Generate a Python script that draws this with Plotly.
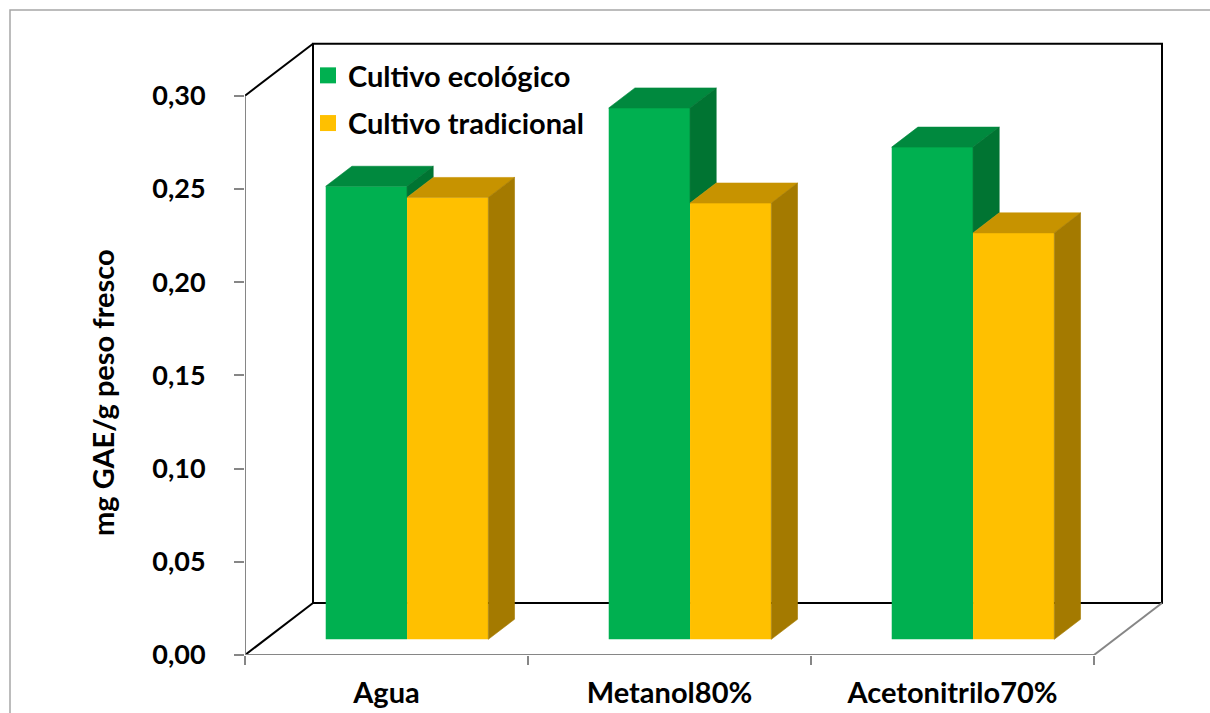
import plotly.graph_objects as go

# ---- data -------------------------------------------------------------
categories = ["Agua", "Metanol80%", "Acetonitrilo70%"]
series_names = ["Cultivo ecológico", "Cultivo tradicional"]
ecologico = [0.243, 0.285, 0.264]
tradicional = [0.237, 0.234, 0.218]
y_ticks = [0.00, 0.05, 0.10, 0.15, 0.20, 0.25, 0.30]
y_max = 0.30

# ---- styling ------------------------------------------------------------
FONT = "Lato"
front_colors = ["#00B050", "#FFC000"]
top_colors = ["#00893E", "#C79300"]
side_colors = ["#007432", "#A47A00"]
AXIS_GRAY = "#868686"
BORDER_GRAY = "#A6A6A6"

# figure / plot-area geometry (pixels)
FIG_W, FIG_H = 1210, 713
PLOT_L, PLOT_R, PLOT_T, PLOT_B = 245, 1180, 20, 655
PX_PER_CAT = 283.0
PX_PER_UNIT = 1864.3

x_range = [0, (PLOT_R - PLOT_L) / PX_PER_CAT]
y_range = [0, (PLOT_B - PLOT_T) / PX_PER_UNIT]

# oblique depth of the floor (full depth), in data units
DEPTH_X = 68 / PX_PER_CAT
DEPTH_Y = 52 / PX_PER_UNIT
# bars occupy this depth slice
D_FRONT, D_BACK = 0.302, 0.687
BAR_W = 0.2873                      # width of one bar, in category units
GAP = (1 - 2 * BAR_W) / 2           # empty space either side of the pair

fx, fy = D_FRONT * DEPTH_X, D_FRONT * DEPTH_Y          # front-face shift
ddx, ddy = (D_BACK - D_FRONT) * DEPTH_X, (D_BACK - D_FRONT) * DEPTH_Y

series_vals = [ecologico, tradicional]
n_cat = len(categories)

fig = go.Figure()

# front faces
for s, vals in enumerate(series_vals):
    xs = [i + GAP + fx + s * BAR_W + BAR_W / 2 for i in range(n_cat)]
    fig.add_trace(go.Bar(
        x=xs, y=vals, base=[fy] * n_cat, width=BAR_W,
        marker=dict(color=front_colors[s], line=dict(width=0)),
        showlegend=False, hoverinfo="skip",
    ))


def polys_trace(polys, color):
    xs, ys = [], []
    for p in polys:
        for (px, py) in p + [p[0]]:
            xs.append(px)
            ys.append(py)
        xs.append(None)
        ys.append(None)
    return go.Scatter(
        x=xs, y=ys, mode="lines", fill="toself", fillcolor=color,
        line=dict(color=color, width=0.6), showlegend=False, hoverinfo="skip",
    )


# top and side faces
for s, vals in enumerate(series_vals):
    tops, sides = [], []
    for i, v in enumerate(vals):
        x0 = i + GAP + fx + s * BAR_W
        x1 = x0 + BAR_W
        top = fy + v
        tops.append([(x0, top), (x1, top), (x1 + ddx, top + ddy), (x0 + ddx, top + ddy)])
        # part of the side face not hidden by the neighbouring bar
        if s + 1 < len(series_vals):
            base = fy + series_vals[s + 1][i]
        else:
            base = fy
        if top > base:
            sides.append([(x1, base), (x1, top), (x1 + ddx, top + ddy), (x1 + ddx, base + ddy)])
    fig.add_trace(polys_trace(tops, top_colors[s]))
    if sides:
        fig.add_trace(polys_trace(sides, side_colors[s]))

# legend entries
for s, name in enumerate(series_names):
    fig.add_trace(go.Scatter(
        x=[None], y=[None], mode="markers", name=name, legendgroup=name,
        marker=dict(symbol="square", size=17, color=front_colors[s]),
    ))

# helper trace so the secondary x axis (category boundary ticks) is drawn
fig.add_trace(go.Scatter(x=[None], y=[None], xaxis="x2", showlegend=False, hoverinfo="skip"))

# walls and floor outline
shapes = []
black = dict(color="black", width=2)
gray = dict(color=AXIS_GRAY, width=2)
shapes.append(dict(type="rect", x0=DEPTH_X, y0=DEPTH_Y, x1=n_cat + DEPTH_X, y1=y_max + DEPTH_Y,
                   line=black, layer="below"))
shapes.append(dict(type="line", x0=0, y0=y_max, x1=DEPTH_X, y1=y_max + DEPTH_Y, line=black, layer="below"))
shapes.append(dict(type="line", x0=0, y0=0, x1=DEPTH_X, y1=DEPTH_Y, line=black, layer="below"))
shapes.append(dict(type="line", x0=n_cat, y0=0, x1=n_cat + DEPTH_X, y1=DEPTH_Y, line=gray, layer="below"))
shapes.append(dict(type="line", x0=0, y0=0, x1=n_cat, y1=0, line=gray, layer="below"))
shapes.append(dict(type="line", x0=0, y0=0, x1=0, y1=y_max, line=gray, layer="below"))
for sh in shapes:
    sh["xref"], sh["yref"] = "x", "y"

# outer chart border
pw, ph = PLOT_R - PLOT_L, PLOT_B - PLOT_T
shapes.append(dict(type="rect", xref="paper", yref="paper",
                   x0=(10 - PLOT_L) / pw, x1=(FIG_W + 20 - PLOT_L) / pw,
                   y0=(PLOT_B - (FIG_H + 20)) / ph, y1=(PLOT_B - 10) / ph,
                   line=dict(color=BORDER_GRAY, width=1.5), layer="below"))

fig.update_layout(
    width=FIG_W, height=FIG_H,
    margin=dict(l=PLOT_L, r=FIG_W - PLOT_R, t=PLOT_T, b=FIG_H - PLOT_B, autoexpand=False),
    paper_bgcolor="white", plot_bgcolor="white",
    barmode="overlay",
    separators=",.",
    font=dict(family=FONT, color="black"),
    shapes=shapes,
    showlegend=True,
    legend=dict(
        x=(308 - PLOT_L) / pw, y=(PLOT_B - 50) / ph, xanchor="left", yanchor="top",
        bgcolor="rgba(0,0,0,0)", borderwidth=0,
        font=dict(family=FONT, size=29, color="black", weight="bold"),
        tracegroupgap=7, itemsizing="trace",
    ),
    xaxis=dict(
        range=x_range, showgrid=False, zeroline=False, showline=False,
        tickmode="array", tickvals=[i + 0.5 for i in range(n_cat)], ticktext=categories,
        ticks="", tickfont=dict(family=FONT, size=29, color="black", weight="bold"),
        ticklabelstandoff=18,
    ),
    xaxis2=dict(
        range=x_range, overlaying="x", side="bottom", showgrid=False, zeroline=False,
        showline=False, tickmode="array", tickvals=list(range(n_cat + 1)),
        showticklabels=False, ticks="outside", ticklen=9, tickwidth=2, tickcolor=AXIS_GRAY,
    ),
    yaxis=dict(
        range=y_range, showgrid=False, zeroline=False, showline=False,
        tickmode="array", tickvals=y_ticks, tickformat=".2f",
        ticks="outside", ticklen=10, tickwidth=2, tickcolor=AXIS_GRAY,
        tickfont=dict(family=FONT, size=27, color="black", weight="bold"),
        ticklabelstandoff=23,
    ),
    annotations=[dict(
        text="mg GAE/g peso fresco", textangle=-90, showarrow=False,
        xref="paper", yref="paper",
        x=(102 - PLOT_L) / pw, y=(PLOT_B - 393) / ph, xanchor="center", yanchor="middle",
        font=dict(family=FONT, size=29, color="black", weight="bold"),
    )],
)

fig.write_html("out.html")
